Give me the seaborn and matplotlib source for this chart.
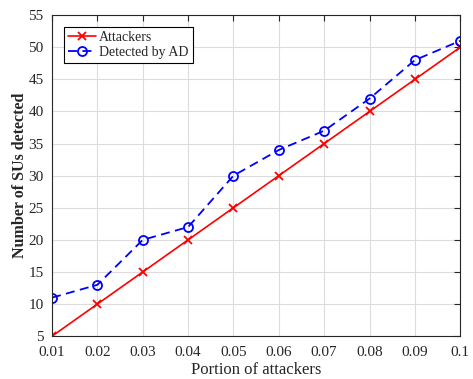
import matplotlib
matplotlib.use('Agg')
import matplotlib.pyplot as plt
import pandas as pd
import seaborn as sns

portion = [0.01, 0.02, 0.03, 0.04, 0.05, 0.06, 0.07, 0.08, 0.09, 0.1]
attackers = [5, 10, 15, 20, 25, 30, 35, 40, 45, 50]
detected = [11, 13, 20, 22, 30, 34, 37, 42, 48, 51]
xticklabels = ['0.01', '0.02', '0.03', '0.04', '0.05', '0.06', '0.07', '0.08', '0.09', '0.1']

sns.set_style('whitegrid')
plt.rcParams['font.family'] = ['Liberation Serif', 'DejaVu Serif']

df = pd.DataFrame({'portion': portion, 'Attackers': attackers, 'Detected by AD': detected})

fig, ax = plt.subplots(figsize=(4.73, 3.79), dpi=100)
fig.subplots_adjust(left=0.11, right=0.973, top=0.96, bottom=0.113)

sns.lineplot(data=df, x='portion', y='Attackers', ax=ax, color='#ff0000',
             marker='x', markersize=6, markeredgecolor='#ff0000',
             markeredgewidth=1.3, linewidth=1.2, label='Attackers')
sns.lineplot(data=df, x='portion', y='Detected by AD', ax=ax, color='#0000ff',
             marker='o', markersize=6.5, markerfacecolor='none', markeredgecolor='#0000ff',
             markeredgewidth=1.3, linewidth=1.3, linestyle=(0, (5, 3)),
             label='Detected by AD')

ax.set_xlim(0.01, 0.1)
ax.set_ylim(5, 55)
ax.set_xticks(portion)
ax.set_xticklabels(xticklabels)
ax.set_yticks(range(5, 56, 5))
ax.set_xlabel('Portion of attackers', fontsize=12, labelpad=2)
ax.set_ylabel('Number of SUs detected', fontsize=11.5, fontweight='bold', labelpad=0.5)
ax.tick_params(axis='both', labelsize=11, direction='in', length=4,
               top=True, right=True, color='#262626', labelcolor='#262626')
ax.tick_params(axis='x', pad=7)
ax.tick_params(axis='y', pad=6)
ax.grid(True, color='#dcdcdc', linewidth=0.8)
for s in ax.spines.values():
    s.set_color('#262626')
    s.set_linewidth(0.8)

leg = ax.legend(loc='upper left', bbox_to_anchor=(0.03, 0.963), fontsize=10,
                frameon=True, fancybox=False, borderpad=0.3, labelspacing=0.15,
                handlelength=2.0, handletextpad=0.2, borderaxespad=0.0)
leg.get_frame().set_edgecolor('black')
leg.get_frame().set_linewidth(0.8)
leg.get_frame().set_alpha(1)

fig.savefig('out.png', dpi=100, facecolor='white')
